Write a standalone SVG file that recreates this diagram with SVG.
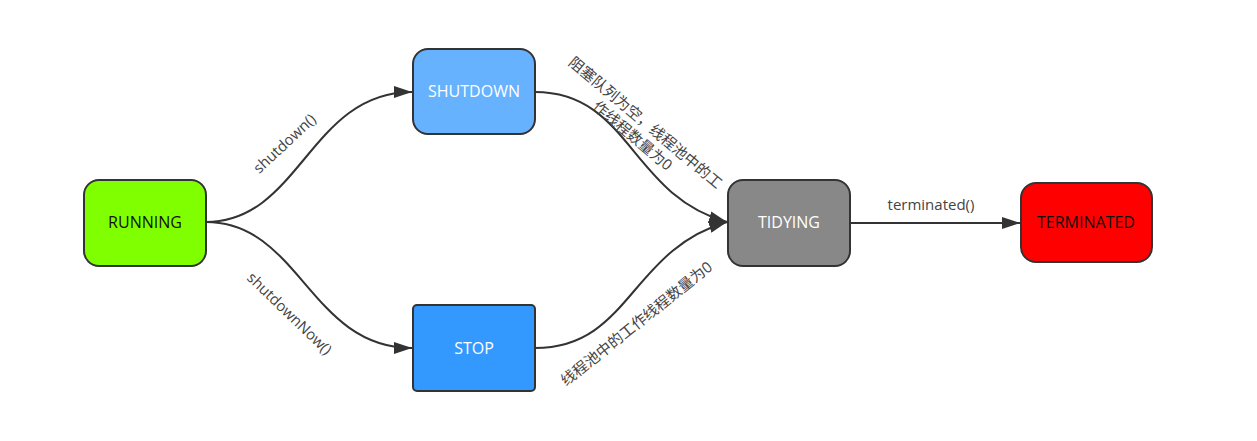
<svg xmlns="http://www.w3.org/2000/svg" width="1257" height="441" viewBox="0 0 1257 441">
<style>
.node rect{stroke:#333;stroke-width:2}
.nt{font-family:"Open Sans","Noto Sans","Noto Sans CJK SC",sans-serif;font-size:16px;text-anchor:middle;dominant-baseline:central}
.lbl{font-family:"Open Sans","Noto Sans","Noto Sans CJK SC",sans-serif;font-size:15px;fill:#444;text-anchor:middle;dominant-baseline:central}
.edge{fill:none;stroke:#333;stroke-width:2;marker-end:url(#arr)}
</style>
<defs>
<marker id="arr" viewBox="0 0 18 12" refX="18" refY="6" markerWidth="18" markerHeight="12" markerUnits="userSpaceOnUse" orient="auto">
<path d="M0,0 L18,6 L0,12 z" fill="#333"/>
</marker>
</defs>
<rect width="1257" height="441" fill="#fff"/>
<g id="connectors">
<path class="edge" d="M206,222 C300,222 310,92 412,92"/>
<path class="edge" d="M206,222 C300,222 310,348 412,348"/>
<path class="edge" d="M535,92 C630,92 630,195 727,222"/>
<path class="edge" d="M535,348 C630,348 630,250 727,222"/>
<path class="edge" d="M850,223 L1020,223"/>
<text class="lbl" transform="translate(284,143) rotate(-43)">shutdown()</text>
<text class="lbl" transform="translate(290,313) rotate(44)">shutdownNow()</text>
<text class="lbl" transform="translate(646,122) rotate(40)">阻塞队列为空，线程池中的工</text>
<text class="lbl" transform="translate(633,135) rotate(40)">作线程数量为0</text>
<text class="lbl" transform="translate(636,323) rotate(-38.6)">线程池中的工作线程数量为0</text>
<text class="lbl" x="931" y="204">terminated()</text>
</g>
<g id="running" class="node"><rect x="84" y="180" width="122" height="86" rx="15" fill="#80ff00"/><text class="nt" x="145" y="222" fill="#111">RUNNING</text></g>
<g id="shutdown" class="node"><rect x="413" y="49" width="122" height="85" rx="15" fill="#66b2ff"/><text class="nt" x="474" y="91" fill="#fff">SHUTDOWN</text></g>
<g id="stop" class="node"><rect x="413" y="305" width="122" height="86" rx="4" fill="#3399ff"/><text class="nt" x="474" y="348" fill="#fff">STOP</text></g>
<g id="tidying" class="node"><rect x="728" y="180" width="122" height="86" rx="15" fill="#888"/><text class="nt" x="789" y="222" fill="#fff">TIDYING</text></g>
<g id="terminated" class="node"><rect x="1021" y="183" width="131" height="79" rx="15" fill="#ff0000"/><text class="nt" x="1086" y="222" fill="#111">TERMINATED</text></g>
</svg>
